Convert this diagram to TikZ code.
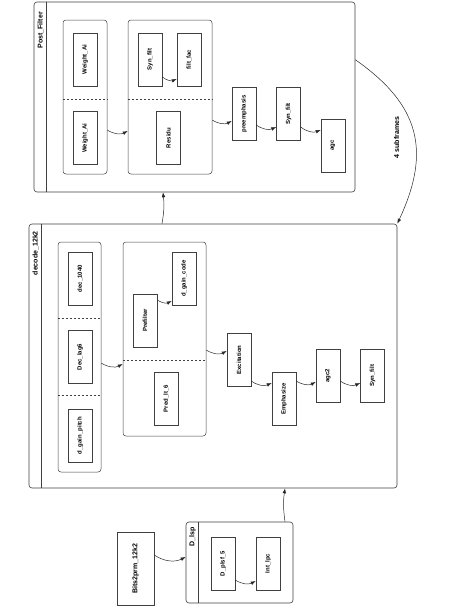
\documentclass[tikz,border=0pt]{standalone}
\usepackage{fontspec}
\setmainfont{Liberation Sans}
\usepackage{graphicx}
\usetikzlibrary{arrows.meta,calc}

\newcommand{\vtext}[1]{\rotatebox{90}{#1}}

\tikzset{
  framebox/.style={draw=black!75, line width=0.6pt, rounded corners=3pt, inner sep=0pt},
  groupbox/.style={draw=black!75, line width=0.5pt, rounded corners=3pt, inner sep=0pt},
  blockbox/.style={draw=black!75, line width=0.5pt, inner sep=0pt, minimum width=24pt, minimum height=53pt, font=\fontsize{6}{7}\selectfont\bfseries},
  titletext/.style={inner sep=0pt, font=\fontsize{7}{8}\selectfont\bfseries},
  headline/.style={draw=black!75, line width=0.6pt},
  divider/.style={black!75, line width=0.5pt, dash pattern=on 2pt off 2pt},
  link/.style={->, black!85, line width=0.5pt},
}

\begin{document}
\begin{tikzpicture}[x=1pt, y=1pt, >={Latex[length=5pt,width=3.6pt]}]
		\useasboundingbox (0,0) rectangle (474,-613);
		
		% Post_Filter
		\node[framebox, minimum width=321pt, minimum height=190pt] (pf) at (194.5,-97) {};
		\draw[headline] ([xshift=13pt]pf.north west) -- ([xshift=13pt]pf.south west);
		\node[titletext, anchor=north] (pftitle) at (40.5,-12) {\vtext{Post\_Filter}};
		
		\node[groupbox, minimum width=44pt, minimum height=154pt] (pfA) at (85,-97) {};
		\draw[divider] ($(pfA.north west)!0.513!(pfA.south west)$) -- ($(pfA.north east)!0.513!(pfA.south east)$);
		\node[blockbox] (wai1) at (85,-59.5) {\vtext{Weight\_Ai}};
		\node[blockbox] (wai2) at (85,-138) {\vtext{Weight\_Ai}};
		
		\node[groupbox, minimum width=84pt, minimum height=154pt] (pfB) at (170,-97) {};
		\draw[divider] ($(pfB.north west)!0.513!(pfB.south west)$) -- ($(pfB.north east)!0.513!(pfB.south east)$);
		\node[blockbox] (synpf) at (150,-59.5) {\vtext{Syn\_filt}};
		\node[blockbox] (filtfac) at (189,-59.5) {\vtext{filt\_fac}};
		\node[blockbox] (residu) at (168.5,-138) {\vtext{Residu}};
		
		\node[blockbox] (preemph) at (244,-114) {\vtext{preemphasis}};
		\node[blockbox] (synpf2) at (288.5,-114) {\vtext{Syn\_filt}};
		\node[blockbox] (agc) at (333,-145.5) {\vtext{agc}};
		
		\draw[link] ([yshift=-17.5pt]synpf.east) to[bend right=30] ([yshift=-19.5pt]filtfac.west);
		\draw[link] ([yshift=-33pt]pfA.east) to[bend right=30] ([yshift=-34pt]pfB.west);
		\draw[link] ([yshift=-23pt]pfB.east) to[bend right=30] ([yshift=-7pt]preemph.west);
		\draw[link] ([yshift=-11pt]preemph.east) to[bend right=30] ([yshift=-13pt]synpf2.west);
		\draw[link] ([yshift=-13pt]synpf2.east) to[bend right=30] ([yshift=15.5pt]agc.west);
		
		% decode_12k2
		\node[framebox, minimum width=368pt, minimum height=264pt] (dec) at (213,-356) {};
		\draw[headline] ([xshift=13pt]dec.north west) -- ([xshift=13pt]dec.south west);
		\node[titletext, anchor=north] (dectitle) at (35.5,-231) {\vtext{decode\_12k2}};
		
		\node[groupbox, minimum width=43pt, minimum height=230pt] (decA) at (79.5,-357) {};
		\draw[divider] ($(decA.north west)!1/3!(decA.south west)$) -- ($(decA.north east)!1/3!(decA.south east)$);
		\draw[divider] ($(decA.north west)!2/3!(decA.south west)$) -- ($(decA.north east)!2/3!(decA.south east)$);
		\node[blockbox] (dec1040) at (80,-278.5) {\vtext{dec\_1040}};
		\node[blockbox] (declag) at (80,-357) {\vtext{Dec\_lag6}};
		\node[blockbox] (dgpitch) at (80,-435.5) {\vtext{d\_gain\_pitch}};
		
		\node[groupbox, minimum width=83pt, minimum height=194pt] (decB) at (164.5,-339) {};
		\draw[divider] ($(decB.north west)!0.608!(decB.south west)$) -- ($(decB.north east)!0.608!(decB.south east)$);
		\node[blockbox] (prefilt) at (145,-320.5) {\vtext{Prefilter}};
		\node[blockbox] (dgcode) at (184,-278.5) {\vtext{d\_gain\_code}};
		\node[blockbox] (predlt) at (166,-398.5) {\vtext{Pred\_lt\_6}};
		
		\node[blockbox] (excit) at (239,-360) {\vtext{Excitation}};
		\node[blockbox] (emph) at (284,-399) {\vtext{Emphasize}};
		\node[blockbox] (agctwo) at (328,-375.5) {\vtext{agc2}};
		\node[blockbox] (syndec) at (372.5,-375.5) {\vtext{Syn\_filt}};
		
		\draw[link] ([yshift=20.5pt]prefilt.east) to[bend right=30] ([yshift=-22.5pt]dgcode.west);
		\draw[link] ([yshift=-6pt]decA.east) to[bend right=30] ([yshift=-25pt]decB.west);
		\draw[link] ([yshift=-11pt]decB.east) to[bend right=30] ([yshift=9pt]excit.west);
		\draw[link] ([yshift=-21pt]excit.east) to[bend right=30] ([yshift=16pt]emph.west);
		\draw[link] ([yshift=18pt]emph.east) to[bend right=30] ([yshift=-6.5pt]agctwo.west);
		\draw[link] ([yshift=-5.5pt]agctwo.east) to[bend right=30] ([yshift=-7.5pt]syndec.west);
		
		% D_lsp and Bits2prm_12k2
		\node[framebox, minimum width=107pt, minimum height=81pt] (dlsp) at (239.5,-562.5) {};
		\draw[headline] ([xshift=13pt]dlsp.north west) -- ([xshift=13pt]dlsp.south west);
		\node[titletext, anchor=north] (dlsptitle) at (192.5,-527) {\vtext{D\_lsp}};
		\node[blockbox] (dplsf) at (223,-563.5) {\vtext{D\_plsf\_5}};
		\node[blockbox] (intlpc) at (268,-563.5) {\vtext{Int\_lpc}};
		\draw[link] ([yshift=-16.5pt]dplsf.east) to[bend right=30] ([yshift=-17.5pt]intlpc.west);
		
		\node[blockbox, minimum width=37pt, minimum height=73pt, font=\fontsize{7}{8}\selectfont\bfseries] (bits) at (135.5,-568.5) {\vtext{Bits2prm\_12k2}};
		\draw[link] ([yshift=13.5pt]bits.east) to[bend right=30] ([yshift=5.5pt]dlsp.west);
		
		% between frames
		\draw[link] ([xshift=45.5pt]dlsp.north) to[bend left=8] ([xshift=72pt]dec.south);
		\draw[link] ([xshift=-51pt]dec.north) to[bend right=8] ([xshift=-31.5pt]pf.south);
		\draw[link] ([yshift=-58pt]pf.north east) to[out=-35, in=65, looseness=1.2] (dec.north east);
		\node[titletext] (sublbl) at (396.5,-137.5) {\vtext{4 subframes}};
		\end{tikzpicture}
\end{document}
